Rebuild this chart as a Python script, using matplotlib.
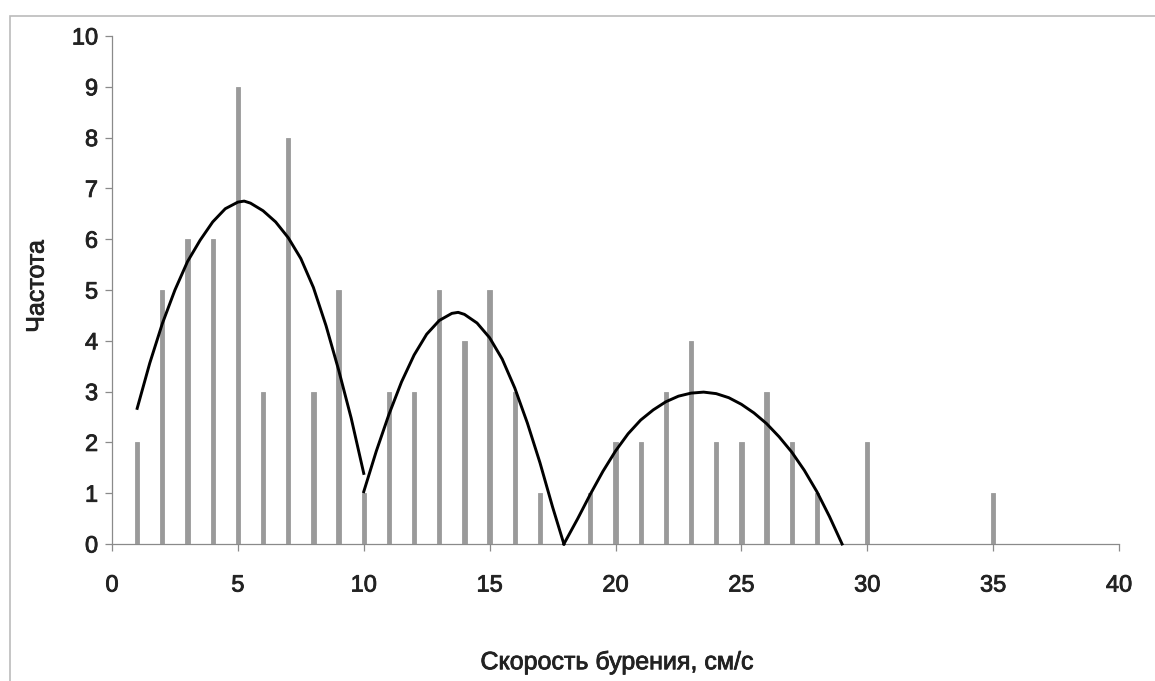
import numpy as np
import matplotlib.pyplot as plt
import matplotlib.patheffects as pe
from matplotlib.patches import Rectangle

plt.rcParams['font.family'] = ['Liberation Sans', 'DejaVu Sans']

# частота по скоростям бурения, см/с
speed = np.arange(1, 40)
freq = [2, 5, 6, 6, 9, 3, 8, 3, 5, 1,
        3, 3, 5, 4, 5, 3, 1, 0, 1, 2,
        2, 3, 4, 2, 2, 3, 2, 1, 0, 2,
        0, 0, 0, 0, 1, 0, 0, 0, 0]

# аппроксимирующие кривые по трём участкам
fit1_x = [1, 1.5, 2, 2.5, 3, 3.5, 4, 4.5, 5, 5.25, 5.5, 6, 6.5, 7, 7.5, 8, 8.5, 9, 9.5, 10]
fit1_y = [2.67, 3.56, 4.34, 5.0, 5.56, 5.98, 6.34, 6.60, 6.73, 6.75,
          6.71, 6.56, 6.34, 6.03, 5.62, 5.05, 4.30, 3.43, 2.48, 1.39]

fit2_x = [10, 10.5, 11, 11.5, 12, 12.5, 13, 13.5, 13.75, 14, 14.5, 15, 15.5, 16, 16.5, 17, 17.5, 17.95]
fit2_y = [1.03, 1.83, 2.55, 3.19, 3.72, 4.13, 4.40, 4.54, 4.56,
          4.52, 4.35, 4.06, 3.64, 3.07, 2.38, 1.60, 0.73, 0.0]

fit3_x = [17.95, 18.5, 19, 19.5, 20, 20.5, 21, 21.5, 22, 22.5, 23, 23.5,
          24, 24.5, 25, 25.5, 26, 26.5, 27, 27.5, 28, 28.5, 29]
fit3_y = [0.0, 0.50, 0.98, 1.43, 1.83, 2.17, 2.44, 2.64, 2.80, 2.91, 2.97, 2.99,
          2.96, 2.88, 2.75, 2.58, 2.37, 2.11, 1.81, 1.45, 1.03, 0.54, 0.0]

W, H = 1155, 681
fig = plt.figure(figsize=(W / 100, H / 100), dpi=100)
ax = fig.add_axes([112 / W, 1 - 544 / H, (1119 - 112) / W, (544 - 36) / H])

ax.bar(speed, freq, width=0.17, color='#9a9a9a', edgecolor='#9a9a9a',
       linewidth=0.6, zorder=3)
for fx, fy in [(fit1_x, fit1_y), (fit2_x, fit2_y), (fit3_x, fit3_y)]:
    ax.plot(fx, fy, color='black', lw=2.1, zorder=4, clip_on=False)

ax.set_xlim(0, 40)
ax.set_ylim(0, 10)
ax.set_xticks(range(0, 41, 5))
ax.set_yticks(range(0, 11))

for s in ['top', 'right']:
    ax.spines[s].set_visible(False)
for s in ['left', 'bottom']:
    ax.spines[s].set_color('#8a8a8a')
    ax.spines[s].set_linewidth(0.9)

ax.tick_params(axis='both', direction='out', length=5, width=0.9,
               color='#8a8a8a', labelsize=17, labelcolor='#222222')
ax.tick_params(axis='x', pad=17)
ax.tick_params(axis='y', pad=5)

ax.set_ylabel('Частота', fontsize=18, color='#222222')
ax.set_xlabel('Скорость бурения, см/с', fontsize=18, color='#222222')
ax.yaxis.set_label_coords(-0.063, 0.507)
ax.xaxis.set_label_coords(0.5015, -0.209)

# чуть более жирный текст
heavy = [pe.withStroke(linewidth=0.6, foreground='#222222')]
for t in ax.get_xticklabels() + ax.get_yticklabels() + [ax.xaxis.label, ax.yaxis.label]:
    t.set_path_effects(heavy)

# рамка вокруг области диаграммы
fig.add_artist(Rectangle((10 / W, -0.1), 1.2, (H - 16) / H + 0.1,
                         transform=fig.transFigure, fill=False,
                         edgecolor='#bbbbbb', lw=1.2))

fig.savefig('out.png', dpi=100)
